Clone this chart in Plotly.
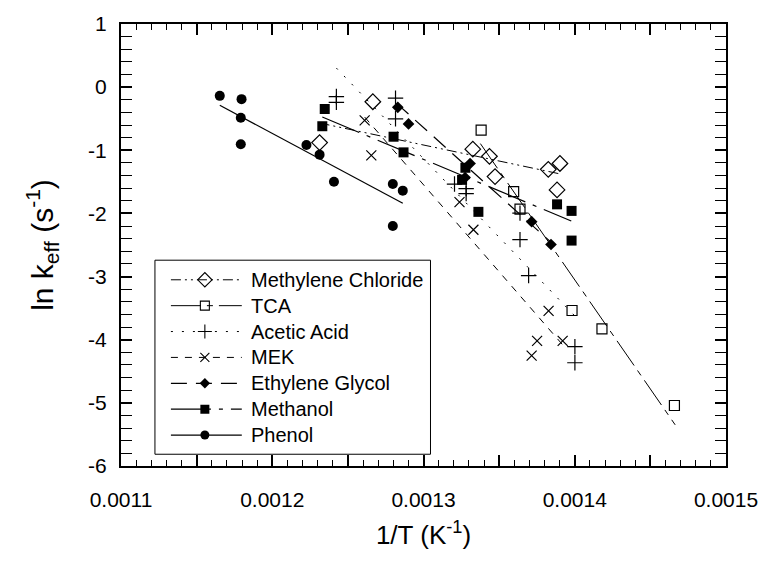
import plotly.graph_objects as go

# ---------------- data ----------------
mc_x = [0.0012313, 0.0012665, 0.0013326, 0.0013436, 0.0013473, 0.0013825, 0.0013902, 0.0013883]
mc_y = [-0.878, -0.231, -0.982, -1.095, -1.417, -1.302, -1.209, -1.628]
mc_fit_x = [0.0012313, 0.0013904]
mc_fit_y = [-0.568, -1.375]

tca_x = [0.0013381, 0.0013596, 0.0013638, 0.0013982, 0.0014180, 0.0014659]
tca_y = [-0.681, -1.654, -1.933, -3.537, -3.827, -5.042]
tca_fit_x = [0.0013376, 0.0014664]
tca_fit_y = [-0.894, -5.348]

aa_x = [0.0012424, 0.0012424, 0.0012815, 0.0012815, 0.0013205, 0.0013282, 0.0013282,
        0.0013638, 0.0013638, 0.0013695, 0.0014001, 0.0014001]
aa_y = [-0.149, -0.242, -0.175, -0.501, -1.535, -1.607, -1.685,
        -1.995, -2.415, -2.984, -4.111, -4.365]
aa_fit_x = [0.0012424, 0.0014001]
aa_fit_y = [0.302, -3.625]

mek_x = [0.0012611, 0.0012655, 0.0013238, 0.0013330, 0.0013827, 0.0013751, 0.0013920, 0.0013715]
mek_y = [-0.526, -1.080, -1.820, -2.259, -3.543, -4.018, -4.018, -4.251]
mek_fit_x = [0.0012611, 0.0013918]
mek_fit_y = [-0.474, -4.075]

eg_x = [0.0012830, 0.0012901, 0.0013308, 0.0013275, 0.0013715, 0.0013843]
eg_y = [-0.319, -0.583, -1.209, -1.432, -2.131, -2.492]
eg_fit_x = [0.0012822, 0.0013845]
eg_fit_y = [-0.257, -2.461]

me_x = [0.0012347, 0.0012331, 0.0012802, 0.0012868, 0.0013277, 0.0013255, 0.0013363,
        0.0013883, 0.0013979, 0.0013979]
me_y = [-0.346, -0.619, -0.785, -1.033, -1.277, -1.468, -1.975, -1.856, -1.960, -2.430]
me_fit_x = [0.0012331, 0.0013977]
me_fit_y = [-0.474, -2.120]

ph_x = [0.0011653, 0.0011797, 0.0011792, 0.0011792, 0.0012226, 0.0012313, 0.0012408,
        0.0012797, 0.0012863, 0.0012797]
ph_y = [-0.138, -0.190, -0.485, -0.904, -0.917, -1.069, -1.499, -1.535, -1.639, -2.200]
ph_fit_x = [0.0011653, 0.0012863]
ph_fit_y = [-0.288, -1.840]

series_names = ["Methylene Chloride", "TCA", "Acetic Acid", "MEK",
                "Ethylene Glycol", "Methanol", "Phenol"]

x_label_vals = [0.0011, 0.0012, 0.0013, 0.0014, 0.0015]
x_label_text = ["0.0011", "0.0012", "0.0013", "0.0014", "0.0015"]
x_half_vals = [0.00115, 0.00125, 0.00135, 0.00145]
y_tick_vals = [1, 0, -1, -2, -3, -4, -5, -6]
y_tick_text = ["1", "0", "-1", "-2", "-3", "-4", "-5", "-6"]

# ---------------- styles ----------------
styles = [
    dict(symbol="diamond-open", size=12, dash="10px,4px,2px,4px,2px,4px", lw=1),
    dict(symbol="square-open", size=10, dash="30px,6px,6px,6px", lw=1),
    dict(symbol="cross-thin-open", size=11, dash="2px,9px", lw=1),
    dict(symbol="x-thin-open", size=10, dash="7px,7px", lw=1),
    dict(symbol="diamond", size=9, dash="16px,9px", lw=1.2),
    dict(symbol="square", size=10, dash="40px,8px,4px,8px", lw=1.2),
    dict(symbol="circle", size=10, dash="solid", lw=1.2),
]

pts = [(mc_x, mc_y), (tca_x, tca_y), (aa_x, aa_y), (mek_x, mek_y),
       (eg_x, eg_y), (me_x, me_y), (ph_x, ph_y)]
fits = [(mc_fit_x, mc_fit_y), (tca_fit_x, tca_fit_y), (aa_fit_x, aa_fit_y),
        (mek_fit_x, mek_fit_y), (eg_fit_x, eg_fit_y), (me_fit_x, me_fit_y),
        (ph_fit_x, ph_fit_y)]

FONT = "Liberation Sans, Arial, Helvetica, sans-serif"

fig = go.Figure()

for (fx, fy), st in zip(fits, styles):
    fig.add_trace(go.Scatter(x=fx, y=fy, mode="lines", showlegend=False,
                             line=dict(color="black", width=st["lw"], dash=st["dash"]),
                             hoverinfo="skip"))

for (px, py), st, nm in zip(pts, styles, series_names):
    thin = "thin" in st["symbol"] or "open" in st["symbol"]
    fig.add_trace(go.Scatter(x=px, y=py, mode="markers", name=nm, showlegend=False,
                             marker=dict(symbol=st["symbol"], size=st["size"], color="black",
                                         line=dict(color="black", width=1.2 if thin else 0))))

# ---------------- custom legend on its own pixel-like axes ----------------
LX0, LX1, LY0, LY1 = 155, 431, 256, 454
row_y = [276 + i * 26.4 for i in range(7)]
for i, (st, nm) in enumerate(zip(styles, series_names)):
    fig.add_trace(go.Scatter(x=[171, 242], y=[row_y[i], row_y[i]], mode="lines",
                             xaxis="x2", yaxis="y2", showlegend=False, hoverinfo="skip",
                             line=dict(color="black", width=st["lw"], dash=st["dash"])))
    thin = "thin" in st["symbol"] or "open" in st["symbol"]
    fig.add_trace(go.Scatter(x=[205], y=[row_y[i]], mode="markers",
                             xaxis="x2", yaxis="y2", showlegend=False, hoverinfo="skip",
                             marker=dict(symbol=st["symbol"], size=st["size"] - 1, color="black",
                                         line=dict(color="black", width=1.1 if thin else 0))))
    fig.add_annotation(x=249, y=row_y[i], xref="x2", yref="y2", text=nm, showarrow=False,
                       xanchor="left", yanchor="middle",
                       font=dict(family=FONT, size=20, color="black"))

W, H = 770, 563
ML, MR, MT, MB = 121, 43, 15, 97
PW, PH = W - ML - MR, H - MT - MB

def px2paper_x(v):
    return (v - ML) / PW

def px2paper_y(v):
    return (H - MB - v) / PH

lx0, lx1 = px2paper_x(LX0), px2paper_x(LX1)
ly0, ly1 = px2paper_y(LY1), px2paper_y(LY0)

fig.add_shape(type="rect", xref="paper", yref="paper", x0=lx0, x1=lx1, y0=ly0, y1=ly1,
              line=dict(color="black", width=1), fillcolor="rgba(0,0,0,0)")

fig.update_layout(
    width=W, height=H,
    margin=dict(l=ML, r=MR, t=MT, b=MB),
    paper_bgcolor="white", plot_bgcolor="white",
    font=dict(family=FONT, size=21, color="black"),
    showlegend=False,
    xaxis=dict(range=[0.0011, 0.0015], tickmode="array", tickvals=x_label_vals,
               ticktext=x_label_text, ticks="inside", ticklen=11, tickwidth=1.5,
               tickcolor="black", showline=True, linecolor="black", linewidth=2,
               mirror="allticks", showgrid=False, zeroline=False,
               ticklabelstandoff=14,
               minor=dict(dtick=0.00001, ticks="inside", ticklen=6, tickwidth=1.2,
                          tickcolor="black", showgrid=False),
               title=dict(text="1/T (K<sup>-1</sup>)", font=dict(size=26), standoff=16),
               tickfont=dict(size=21)),
    xaxis3=dict(range=[0.0011, 0.0015], overlaying="x", anchor="y", side="bottom",
                tickmode="array", tickvals=x_half_vals, showticklabels=False,
                ticks="inside", ticklen=11, tickwidth=1.5, tickcolor="black",
                showline=False, mirror="ticks", showgrid=False, zeroline=False),
    yaxis=dict(range=[-6, 1], tickmode="array", tickvals=y_tick_vals, ticktext=y_tick_text,
               ticks="inside", ticklen=11, tickwidth=1.5, tickcolor="black",
               showline=True, linecolor="black", linewidth=2, mirror="allticks",
               showgrid=False, zeroline=False, ticklabelstandoff=8,
               minor=dict(dtick=0.2, ticks="inside", ticklen=6, tickwidth=1.2,
                          tickcolor="black", showgrid=False),
               title=dict(text="ln k<sub>eff</sub> (s<sup>-1</sup>)", font=dict(size=30), standoff=26),
               tickfont=dict(size=21)),
    xaxis2=dict(domain=[lx0, lx1], range=[LX0, LX1], visible=False, anchor="y2",
                fixedrange=True),
    yaxis2=dict(domain=[ly0, ly1], range=[LY1, LY0], visible=False, anchor="x2",
                fixedrange=True),
)

# a dummy invisible trace so the overlay axis with the half-step ticks is drawn
fig.add_trace(go.Scatter(x=[0.0011], y=[1], xaxis="x3", mode="markers",
                         marker=dict(opacity=0), showlegend=False, hoverinfo="skip"))

fig.write_html("out.html")
